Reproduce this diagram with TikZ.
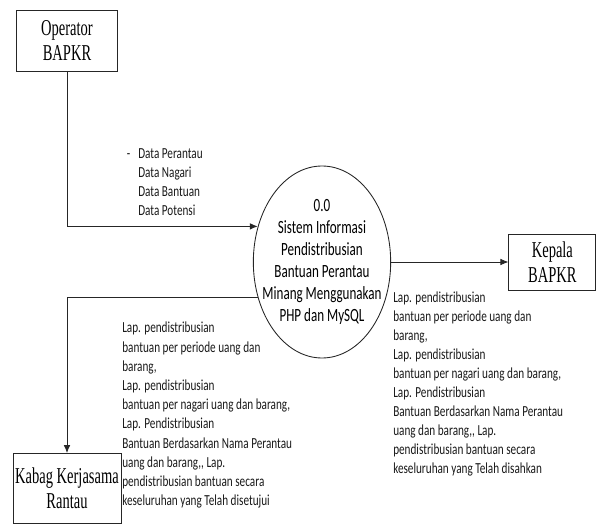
\documentclass[tikz,border=0pt]{standalone}
\usepackage{fontspec}
\setmainfont{Liberation Serif}[FakeStretch=0.64]
\newfontfamily\calibnote{Carlito}[FakeStretch=0.73]
\newfontfamily\calibproc{Carlito}[FakeStretch=0.70]
\usetikzlibrary{arrows.meta, positioning, shapes.geometric}

\begin{document}
\begin{tikzpicture}[
    x=0.75pt, y=-0.75pt,
    >={Latex[length=6pt,width=5pt]},
    entity/.style = {draw=black!85, rectangle, line width=0.65pt, align=center, inner sep=0pt, font=\fontsize{17}{18.75}\selectfont},
    process/.style = {draw=black!85, ellipse, line width=0.65pt, inner sep=0pt, minimum width=103pt, minimum height=144pt},
    proctext/.style = {align=center, inner sep=0pt, font=\calibproc\fontsize{14}{16.5}\selectfont},
    flow/.style = {->, draw=black!85, line width=0.65pt},
    note/.style = {anchor=north west, align=left, inner sep=0pt, text=black!90, font=\calibnote\fontsize{11.5}{14.4}\selectfont}
]
\useasboundingbox (0,0) rectangle (596,524);

% =========================================================
% PROCESS
% =========================================================
\node[process, label={[proctext]center:{0.0\\Sistem Informasi\\Pendistribusian\\Bantuan Perantau\\Minang Menggunakan\\PHP dan MySQL}}] (proc) at (322,262) {};

% =========================================================
% EXTERNAL ENTITIES
% =========================================================
\node[entity, minimum width=75.75pt, minimum height=45.75pt] (op) at (67,40.5) {Operator\\BAPKR};
\node[entity, minimum width=65.25pt, minimum height=42pt, right=88pt of proc] (kep) {Kepala\\BAPKR};
\node[entity, minimum width=81pt, minimum height=52.5pt] (kab) at (67,488.5) {Kabag Kerjasama\\Rantau};

% =========================================================
% DATA FLOWS
% =========================================================
\draw[flow] (op.south) |- (proc.151);
\draw[flow] (proc) -- (kep);
\draw[flow] (proc.209) -| (kab.north);

% Flow labels
\node[note] (datain) at (138,148) {\llap{-\hspace{6pt}}Data Perantau\\Data Nagari\\Data Bantuan\\Data Potensi};
\node[note] (lapkab) at (122,322) {Lap. pendistribusian\\bantuan per periode uang dan\\barang,\\Lap. pendistribusian\\bantuan per nagari uang dan barang,\\Lap. Pendistribusian\\Bantuan Berdasarkan Nama Perantau\\uang dan barang,, Lap.\\pendistribusian bantuan secara\\keseluruhan yang Telah disetujui};
\node[note, font=\calibnote\fontsize{11.5}{14.2}\selectfont] (lapkep) at (393,292) {Lap. pendistribusian\\bantuan per periode uang dan\\barang,\\Lap. pendistribusian\\bantuan per nagari uang dan barang,\\Lap. Pendistribusian\\Bantuan Berdasarkan Nama Perantau\\uang dan barang,, Lap.\\pendistribusian bantuan secara\\keseluruhan yang Telah disahkan};

\end{tikzpicture}
\end{document}
